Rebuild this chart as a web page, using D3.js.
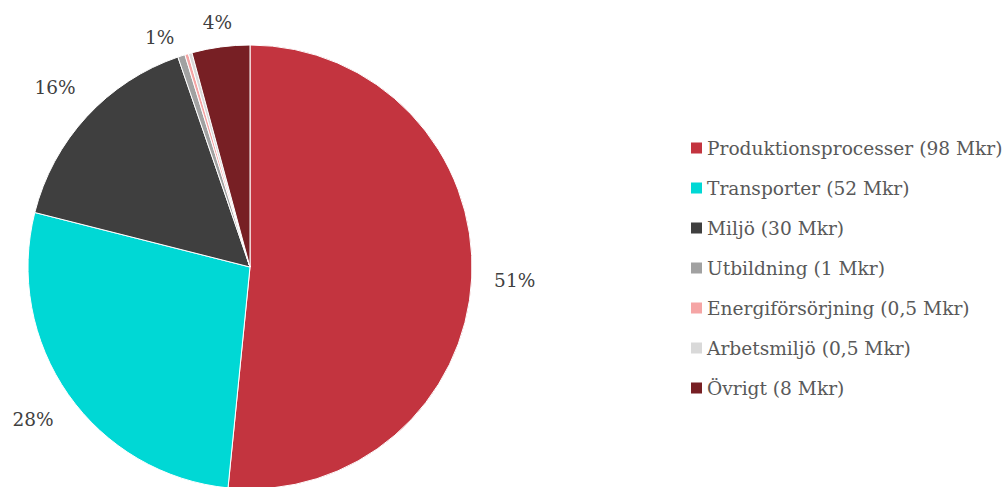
<!DOCTYPE html>
<html lang="sv">
<head>
<meta charset="utf-8">
<title>Fördelning</title>
<script src="https://cdn.jsdelivr.net/npm/d3@7"></script>
<style>
  body { margin: 0; background: #fff; }
  svg text { font-family: "DejaVu Serif", Georgia, serif; }
</style>
</head>
<body>
<svg id="chart" width="1006" height="487"></svg>
<script>
// data
var categories = ["Produktionsprocesser", "Transporter", "Miljö", "Utbildning", "Energiförsörjning", "Arbetsmiljö", "Övrigt"];
var values = [98, 52, 30, 1, 0.5, 0.5, 8];
var valueLabels = ["98 Mkr", "52 Mkr", "30 Mkr", "1 Mkr", "0,5 Mkr", "0,5 Mkr", "8 Mkr"];
var pctLabels = ["51%", "28%", "16%", "1%", "", "", "4%"];
var colors = ["#c3343f", "#00d8d5", "#3f3f3f", "#a1a1a1", "#f5a5a5", "#d9d9d9", "#771f24"];

var svg = d3.select("#chart");
var cx = 250, cy = 267, r = 222;

var data = categories.map(function(c, i) {
  return { name: c, value: values[i], vlab: valueLabels[i], pct: pctLabels[i], color: colors[i] };
});

var pie = d3.pie().sort(null).value(function(d) { return d.value; });
var arc = d3.arc().innerRadius(0).outerRadius(r);

var g = svg.append("g").attr("transform", "translate(" + cx + "," + cy + ")");

var arcs = pie(data);

g.selectAll("path")
  .data(arcs)
  .enter()
  .append("path")
    .attr("d", arc)
    .attr("fill", function(d) { return d.data.color; })
    .attr("stroke", "#fff")
    .attr("stroke-width", 1);

// percentage labels outside the pie
g.selectAll("text.pct")
  .data(arcs.filter(function(d) { return d.data.pct !== ""; }))
  .enter()
  .append("text")
    .attr("class", "pct")
    .attr("transform", function(d) {
      var lr = d.data.value < 10 ? r + 25 : r + 43;
      var a = (d.startAngle + d.endAngle) / 2;
      if (d.data.value < 5) a -= 0.06;  // tiny slice label pushed aside
      return "translate(" + (lr * Math.sin(a)) + "," + (-lr * Math.cos(a)) + ")";
    })
    .attr("text-anchor", "middle")
    .attr("dy", "0.35em")
    .attr("font-size", 18.5)
    .attr("fill", "#404040")
    .text(function(d) { return d.data.pct; });

// legend
var legend = svg.append("g").attr("transform", "translate(691,148)");
var rows = legend.selectAll("g")
  .data(data)
  .enter()
  .append("g")
    .attr("transform", function(d, i) { return "translate(0," + (i * 40) + ")"; });

rows.append("rect")
  .attr("x", 0).attr("y", -5.5)
  .attr("width", 11).attr("height", 11)
  .attr("fill", function(d) { return d.color; });

rows.append("text")
  .attr("x", 16)
  .attr("dy", "0.35em")
  .attr("font-size", 18.6)
  .attr("fill", "#595959")
  .text(function(d) { return d.name + " (" + d.vlab + ")"; });
</script>
</body>
</html>
